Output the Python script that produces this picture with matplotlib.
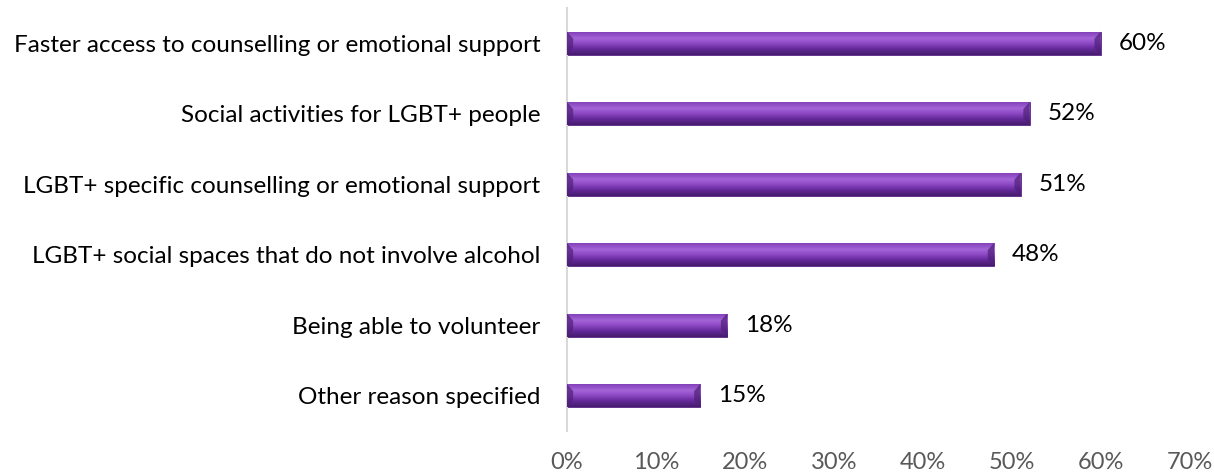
import matplotlib.pyplot as plt
import numpy as np
from matplotlib.colors import LinearSegmentedColormap

plt.rcParams["font.family"] = ["Lato", "DejaVu Sans"]

categories = [
    "Faster access to counselling or emotional support",
    "Social activities for LGBT+ people",
    "LGBT+ specific counselling or emotional support",
    "LGBT+ social spaces that do not involve alcohol",
    "Being able to volunteer",
    "Other reason specified",
]
values = [60, 52, 51, 48, 18, 15]
xticks = [0, 10, 20, 30, 40, 50, 60, 70]

fig = plt.figure(figsize=(12.14, 4.72), dpi=100)
ax = fig.add_axes([0.467, 0.087, 0.513, 0.896])

y = np.arange(len(categories))[::-1]
bar_h = 0.33

# vertical gradient for the bevelled bar look
cmap = LinearSegmentedColormap.from_list(
    "bevel",
    [(0.0, "#7E3CB4"), (0.3, "#A465D8"), (0.5, "#8E4AC6"),
     (0.75, "#64299A"), (1.0, "#451C6C")],
)
grad = np.linspace(0, 1, 64).reshape(-1, 1)

bars = ax.barh(y, values, height=bar_h, color="#7B3AAE", edgecolor="#5A2585",
               linewidth=0.6, zorder=2)
for b, v in zip(bars, values):
    y0 = b.get_y()
    im = ax.imshow(grad, cmap=cmap, aspect="auto", origin="upper",
                   extent=[0, v, y0, y0 + bar_h], zorder=3)
    im.set_clip_path(b)
    # darker bevel ends
    d = 0.7
    ax.fill([v, v - d, v - d, v], [y0, y0 + bar_h * 0.3, y0 + bar_h * 0.7, y0 + bar_h],
            color="#4E2078", alpha=0.7, lw=0, zorder=4)
    ax.fill([0, d, d, 0], [y0, y0 + bar_h * 0.3, y0 + bar_h * 0.7, y0 + bar_h],
            color="#4E2078", alpha=0.7, lw=0, zorder=4)
    ax.text(v + 2.0, y0 + bar_h / 2, f"{v}%", va="center", ha="left",
            fontsize=17.5, color="black")

ax.set_xlim(0, 70)
ax.set_ylim(-0.5, len(categories) - 0.5)
ax.set_xticks(xticks)
ax.set_xticklabels([f"{t}%" for t in xticks], fontsize=17, color="#595959")
ax.set_yticks(y)
ax.set_yticklabels(categories, fontsize=17.5, color="black")
ax.tick_params(axis="both", length=0)
ax.tick_params(axis="x", pad=15)
ax.tick_params(axis="y", pad=19)

for s in ["top", "right", "bottom"]:
    ax.spines[s].set_visible(False)
ax.spines["left"].set_color("#D9D9D9")
ax.spines["left"].set_linewidth(1.5)

fig.savefig("out.png", dpi=100)
